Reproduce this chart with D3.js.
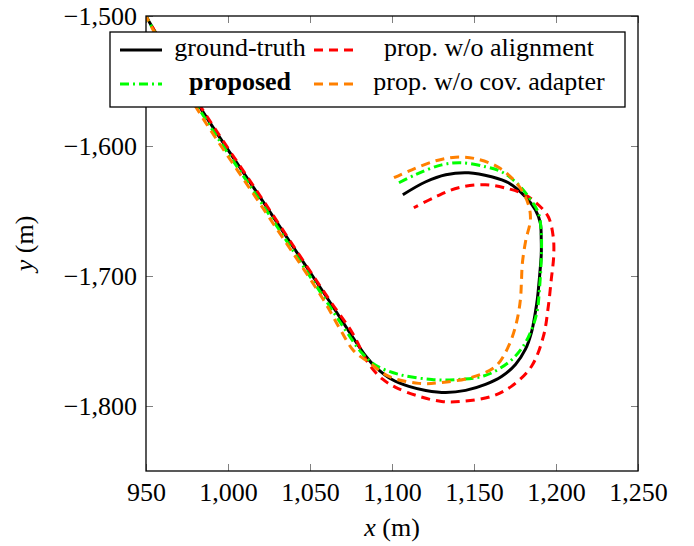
<!DOCTYPE html>
<html>
<head>
<meta charset="utf-8">
<script src="https://cdn.jsdelivr.net/npm/d3@7"></script>
<style>
  body { margin: 0; background: #fff; }
  text { font-family: "Liberation Serif", "Times New Roman", serif; }
</style>
</head>
<body>
<div id="chart"></div>
<script>
// trajectories, [x, y] in metres
const groundTruth = [
  [949, -1498], [982.8, -1569.9], [1022, -1644], [1061.1, -1718.1], [1084.2, -1761.9],
  [1090.3, -1770.4], [1100.0, -1779.6], [1110.3, -1784.9], [1120.6, -1788.0],
  [1132.8, -1789.6], [1144.9, -1788.0], [1157.0, -1783.4], [1166.8, -1777.3],
  [1175.3, -1768.0], [1181.3, -1756.5], [1185.0, -1743.5], [1187.4, -1728.1],
  [1188.6, -1718.1], [1189.8, -1702.8], [1191.0, -1683.6], [1191.0, -1672.0],
  [1190.4, -1659.0], [1187.4, -1649.0], [1181.3, -1639.0], [1171.0, -1628.3],
  [1160.7, -1623.7], [1146.7, -1620.6], [1132.8, -1622.1], [1120.6, -1627.5],
  [1106.6, -1637.5]
];
const noAlignment = [
  [949, -1498], [983.4, -1569.9], [1022.6, -1644], [1061.7, -1718.1], [1075.7, -1743.5],
  [1086.0, -1768.0], [1094.3, -1779.4], [1102.2, -1785.7], [1116.6, -1792.6],
  [1130.3, -1796.5], [1142.5, -1796.5], [1160.7, -1792.6], [1172.8, -1784.9],
  [1185.0, -1769.6], [1192.3, -1746.5], [1195.3, -1723.5], [1197.1, -1702.8],
  [1198.6, -1684.6], [1198.3, -1669.7], [1195.3, -1654.4], [1189.2, -1645.2],
  [1181.3, -1637.5], [1171.0, -1632.9], [1157.0, -1629.8], [1140.6, -1632.1],
  [1126.7, -1639.0], [1113.3, -1647.5]
];
const proposed = [
  [949, -1498], [981.6, -1569.9], [1020.5, -1644], [1059.3, -1718.1], [1071.4, -1741.2],
  [1081.8, -1759.5], [1090.3, -1768.8], [1104.2, -1775.7], [1124.3, -1779.6],
  [1140.6, -1779.6], [1157.0, -1776.5], [1171.0, -1766.5], [1179.5, -1755.0],
  [1185.4, -1740.4], [1188.6, -1726.5], [1189.8, -1712.0], [1191.0, -1687.4],
  [1191.0, -1666.7], [1189.2, -1651.3], [1183.2, -1639.0], [1175.9, -1628.3],
  [1166.8, -1619.8], [1157.0, -1616.0], [1142.5, -1612.9], [1130.3, -1614.5],
  [1114.5, -1622.0], [1104.2, -1628.3]
];
const noCovAdapter = [
  [949, -1498], [980.4, -1569.9], [1019.3, -1644], [1058.1, -1718.1], [1068.5, -1741.2],
  [1076.6, -1757.5], [1086.0, -1766.5], [1098.1, -1777.3], [1116.4, -1782.6],
  [1130.3, -1781.9], [1148.5, -1778.0], [1163.1, -1769.6], [1171.0, -1754.2],
  [1175.9, -1735.8], [1178.3, -1718.1], [1178.9, -1705.1], [1179.5, -1690.1],
  [1181.5, -1673.0], [1184.4, -1656.7], [1183.2, -1645.2], [1177.1, -1630.3],
  [1164.9, -1616.4], [1151.0, -1609.8], [1138.8, -1608.6], [1126.7, -1611.4],
  [1112.1, -1618.3], [1101.2, -1624.4]
];

const xTicks = [950, 1000, 1050, 1100, 1150, 1200, 1250];
const yTicks = [-1500, -1600, -1700, -1800];
const xDomain = [950, 1250];
const yDomain = [-1850, -1500];

const series = [
  { name: "ground-truth", data: groundTruth, color: "#000000", dash: null, bold: false },
  { name: "prop. w/o alignment", data: noAlignment, color: "#ff0000", dash: "9,6", bold: false },
  { name: "proposed", data: proposed, color: "#00ff00", dash: "9,4,2,4", bold: true },
  { name: "prop. w/o cov. adapter", data: noCovAdapter, color: "#ff8000", dash: "9,6", bold: false }
];

const svgWidth = 694, svgHeight = 546;
const margin = { top: 16, right: 56, bottom: 75, left: 146 };
const width = svgWidth - margin.left - margin.right;
const height = svgHeight - margin.top - margin.bottom;

const svg = d3.select("#chart").append("svg")
  .attr("width", svgWidth).attr("height", svgHeight);

const g = svg.append("g")
  .attr("transform", "translate(" + margin.left + "," + margin.top + ")");

const x = d3.scaleLinear().domain(xDomain).range([0, width]);
const y = d3.scaleLinear().domain(yDomain).range([height, 0]);
const fmt = d3.format(",");

g.append("clipPath").attr("id", "clip")
  .append("rect").attr("width", width).attr("height", height);

// tick marks on all four sides, pointing inwards
const tickLen = 7;
function addAxis(axis, transform, labels) {
  const a = g.append("g").attr("transform", transform).call(axis);
  a.select(".domain").remove();
  a.selectAll("line").attr("stroke", "#808080").attr("stroke-width", 1);
  if (labels) {
    a.selectAll("text").attr("font-size", 26).attr("fill", "#000")
      .style("font-family", "'Liberation Serif', serif");
  } else {
    a.selectAll("text").remove();
  }
  return a;
}

addAxis(d3.axisBottom(x).tickValues(xTicks).tickFormat(fmt)
  .tickSizeInner(-tickLen).tickPadding(12), "translate(0," + height + ")", true);
addAxis(d3.axisTop(x).tickValues(xTicks).tickSizeInner(-tickLen), "translate(0,0)", false);
addAxis(d3.axisLeft(y).tickValues(yTicks).tickFormat(fmt)
  .tickSizeInner(-tickLen).tickPadding(9), "translate(0,0)", true);
addAxis(d3.axisRight(y).tickValues(yTicks).tickSizeInner(-tickLen), "translate(" + width + ",0)", false);

const line = d3.line()
  .x(d => x(d[0]))
  .y(d => y(d[1]))
  .curve(d3.curveCatmullRom.alpha(0.5));

const plots = g.append("g").attr("clip-path", "url(#clip)");
series.forEach(s => {
  plots.append("path")
    .datum(s.data)
    .attr("fill", "none")
    .attr("stroke", s.color)
    .attr("stroke-width", 3)
    .attr("stroke-dasharray", s.dash)
    .attr("stroke-linejoin", "round")
    .attr("d", line);
});

// frame
g.append("rect")
  .attr("width", width).attr("height", height)
  .attr("fill", "none").attr("stroke", "#000").attr("stroke-width", 1.3);

// legend
const legend = svg.append("g").attr("transform", "translate(110,32)");
legend.append("rect")
  .attr("width", 515).attr("height", 75)
  .attr("fill", "#fff").attr("stroke", "#000").attr("stroke-width", 1.3);

const cols = [
  { lineX: 10, textX: 130 },
  { lineX: 204, textX: 379 }
];
series.forEach((s, i) => {
  const c = cols[i % 2];
  const rowY = i < 2 ? 18 : 52;
  legend.append("line")
    .attr("x1", c.lineX).attr("x2", c.lineX + 42)
    .attr("y1", rowY).attr("y2", rowY)
    .attr("stroke", s.color).attr("stroke-width", 3)
    .attr("stroke-dasharray", s.dash);
  legend.append("text")
    .attr("x", c.textX).attr("y", rowY + 6)
    .attr("text-anchor", "middle")
    .attr("font-size", 26)
    .attr("font-weight", s.bold ? "bold" : "normal")
    .text(s.name);
});

// axis labels
const xl = svg.append("text")
  .attr("x", margin.left + width / 2).attr("y", 536)
  .attr("text-anchor", "middle").attr("font-size", 26);
xl.append("tspan").attr("font-style", "italic").text("x");
xl.append("tspan").text(" (m)");

const yl = svg.append("text")
  .attr("transform", "translate(33," + (margin.top + height / 2) + ") rotate(-90)")
  .attr("text-anchor", "middle").attr("font-size", 26);
yl.append("tspan").attr("font-style", "italic").text("y");
yl.append("tspan").text(" (m)");
</script>
</body>
</html>
